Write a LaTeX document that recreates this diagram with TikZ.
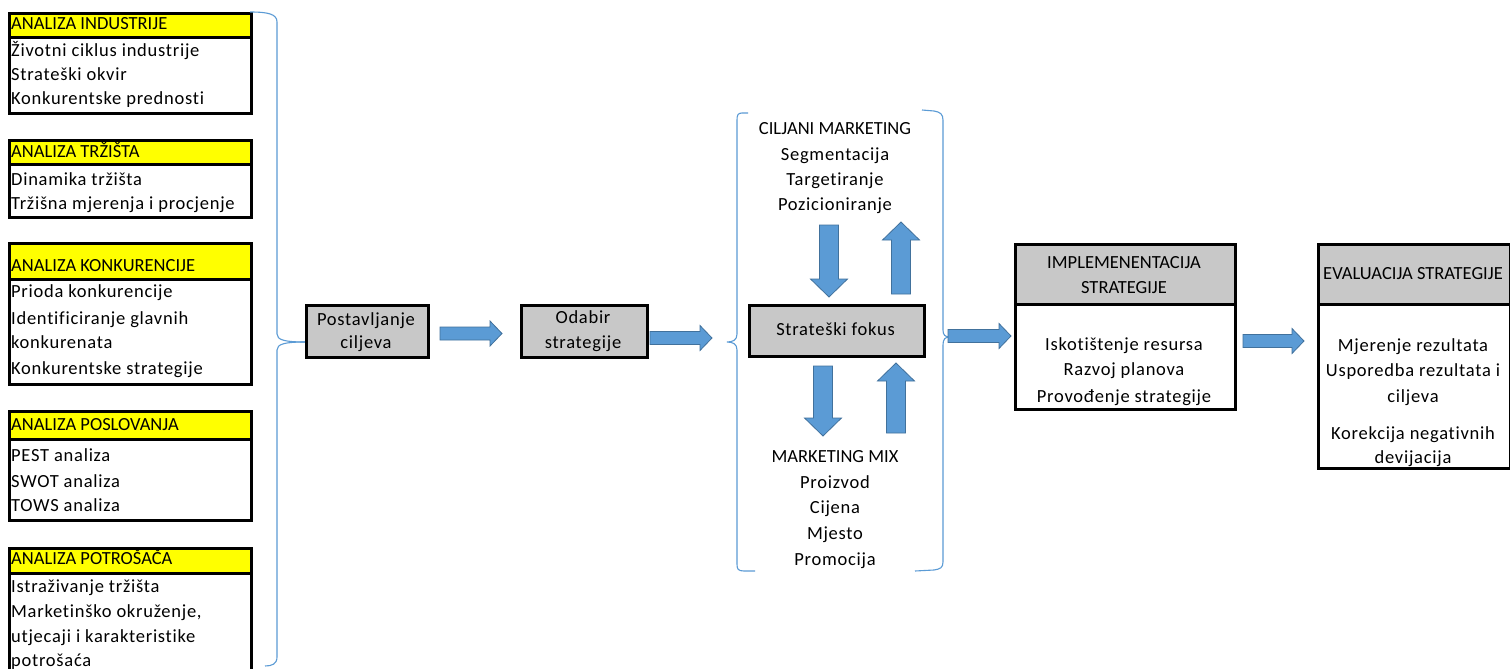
\documentclass[tikz,border=0pt]{standalone}
\usepackage{fontspec}
\setmainfont[Ligatures=NoCommon]{Carlito}
\newfontfamily\spaced[LetterSpace=4,Ligatures=NoCommon]{Carlito}
\definecolor{hdryellow}{RGB}{255,255,0}
\definecolor{boxgray}{RGB}{200,200,200}
\definecolor{arrowfill}{RGB}{91,155,213}
\definecolor{arrowline}{RGB}{65,113,156}
\definecolor{bracecol}{RGB}{91,155,213}
\tikzset{
  frame/.style={draw=black, line width=2.6pt, inner sep=0pt, anchor=north west},
  yhdr/.style={frame, fill=hdryellow},
  ghdr/.style={frame, fill=boxgray},
  wbody/.style={frame, fill=white},
  txt/.style={font=\spaced\fontsize{18.5}{20}\selectfont, inner sep=0pt, anchor=base west},
  htxt/.style={font=\fontsize{18.5}{20}\selectfont, inner sep=0pt, anchor=base west},
  ctxt/.style={font=\spaced\fontsize{18.5}{20}\selectfont, inner sep=0pt, anchor=base},
  chtxt/.style={font=\fontsize{18.5}{20}\selectfont, inner sep=0pt, anchor=base},
  blk/.style={fill=arrowfill, draw=arrowline, line width=0.8pt},
  bracel/.style={draw=bracecol, line width=1.1pt},
}
\newcommand{\harr}[3]{% x1, x2, yc
  \draw[blk] (#1,#3-6.5) -- (#2-12,#3-6.5) -- (#2-12,#3-12.5) -- (#2,#3) -- (#2-12,#3+12.5) -- (#2-12,#3+6.5) -- (#1,#3+6.5) -- cycle;}
\newcommand{\varr}[4]{% xc, ystart, ytip, sign(+1 down,-1 up)
  \draw[blk] (#1-9.5,#2) -- (#1+9.5,#2) -- (#1+9.5,#3-#4*18) -- (#1+18.5,#3-#4*18) -- (#1,#3) -- (#1-18.5,#3-#4*18) -- (#1-9.5,#3-#4*18) -- cycle;}
\begin{document}
\begin{tikzpicture}[x=1pt,y=-1pt]
\useasboundingbox (0,0) rectangle (1510,669);
\fill[white] (0,0) rectangle (1510,669);

% ---------- left analysis boxes ----------
% box 1
\node[wbody, minimum width=242, minimum height=100] (b1) at (8,12) {};
\node[yhdr, minimum width=242, minimum height=24] (h1) at (8,12) {};
\node[htxt] (h1t) at (11,30) {ANALIZA INDUSTRIJE};
\node[txt] (b1a) at (11,57) {Životni ciklus industrije};
\node[txt] (b1b) at (11,81) {Strateški okvir};
\node[txt] (b1c) at (11,104) {Konkurentske prednosti};
% box 2
\node[wbody, minimum width=242, minimum height=77] (b2) at (8,139) {};
\node[yhdr, minimum width=242, minimum height=24] (h2) at (8,139) {};
\node[htxt] (h2t) at (11,157) {ANALIZA TRŽIŠTA};
\node[txt] (b2a) at (11,185) {Dinamika tržišta};
\node[txt] (b2b) at (11,209) {Tržišna mjerenja i procjenje};
% box 3
\node[wbody, minimum width=242, minimum height=141] (b3) at (8,242) {};
\node[yhdr, minimum width=242, minimum height=36] (h3) at (8,242) {};
\node[htxt] (h3t) at (11,271) {ANALIZA KONKURENCIJE};
\node[txt] (b3a) at (11,297) {Prioda konkurencije};
\node[txt] (b3b) at (11,324) {Identificiranje glavnih};
\node[txt] (b3c) at (11,348) {konkurenata};
\node[txt] (b3d) at (11,374) {Konkurentske strategije};
% box 4
\node[wbody, minimum width=242, minimum height=109] (b4) at (8,410) {};
\node[yhdr, minimum width=242, minimum height=28] (h4) at (8,410) {};
\node[htxt] (h4t) at (11,430) {ANALIZA POSLOVANJA};
\node[txt] (b4a) at (11,461) {PEST analiza};
\node[txt] (b4b) at (11,487) {SWOT analiza};
\node[txt] (b4c) at (11,511) {TOWS analiza};
% box 5 (runs off the bottom)
\node[wbody, minimum width=242, minimum height=130] (b5) at (8,547) {};
\node[yhdr, minimum width=242, minimum height=25] (h5) at (8,547) {};
\node[htxt] (h5t) at (11,564) {ANALIZA POTROŠAČA};
\node[txt] (b5a) at (11,592) {Istraživanje tržišta};
\node[txt] (b5b) at (11,617) {Marketinško okruženje,};
\node[txt] (b5c) at (11,642) {utjecaji i karakteristike};
\node[txt] (b5d) at (11,666) {potrošaća};

% ---------- big left brace ----------
\draw[bracel] (250,12) .. controls (268,12) and (277,14) .. (277,22)
  -- (277,334) .. controls (277,340) and (285,342) .. (305,342);
\draw[bracel] (305,342) .. controls (285,342) and (277,344) .. (277,350)
  -- (277,657) .. controls (277,664) and (272,666) .. (265,666);

% ---------- Postavljanje / Odabir ----------
\node[ghdr, minimum width=122, minimum height=52] (pc) at (305,304) {};
\node[ctxt] (pc1) at (366,325) {Postavljanje};
\node[ctxt] (pc2) at (366,348) {ciljeva};
\harr{440}{502}{333.5}
\node[ghdr, minimum width=126, minimum height=52] (os) at (520,304) {};
\node[ctxt] (os1) at (583,323) {Odabir};
\node[ctxt] (os2) at (583,348) {strategije};
\harr{650}{712}{338}

% ---------- middle brackets ----------
\draw[bracel] (748,113) -- (742,113) .. controls (738,113) and (737,115) .. (737,120)
  -- (737,334) .. controls (737,340) and (733,342) .. (727,342)
  .. controls (733,342) and (737,344) .. (737,350)
  -- (737,564) .. controls (737,569) and (738,571) .. (744,571) -- (755,571);
\draw[bracel] (922,110) -- (934,111) .. controls (940,112) and (943,114) .. (943,120)
  -- (943,330) .. controls (943,335) and (945,337) .. (950,337)
  .. controls (945,337) and (943,339) .. (943,345)
  -- (943,562) .. controls (943,568) and (940,569) .. (934,570) -- (915,571);

\node[chtxt] (cm) at (835,134) {CILJANI MARKETING};
\node[ctxt] (cm1) at (835,160) {Segmentacija};
\node[ctxt] (cm2) at (835,185) {Targetiranje};
\node[ctxt] (cm3) at (835,210) {Pozicioniranje};

\varr{829}{225}{297}{1}
\varr{901}{294}{222}{-1}

\node[ghdr, minimum width=175, minimum height=51] (sf) at (748,304) {};
\node[ctxt] (sft) at (835.5,335) {Strateški fokus};

\varr{823}{366}{436}{1}
\varr{896}{433}{363}{-1}

\node[chtxt] (mm) at (835,462) {MARKETING MIX};
\node[ctxt] (mm1) at (835,488) {Proizvod};
\node[ctxt] (mm2) at (835,513) {Cijena};
\node[ctxt] (mm3) at (835,539) {Mjesto};
\node[ctxt] (mm4) at (835,565) {Promocija};

\harr{948}{1011}{336}

% ---------- Implementacija ----------
\node[wbody, minimum width=220, minimum height=165] (im) at (1014,243) {};
\node[ghdr, minimum width=220, minimum height=60] (imh) at (1014,243) {};
\node[chtxt] (imh1) at (1124,268) {IMPLEMENENTACIJA};
\node[chtxt] (imh2) at (1124,293) {STRATEGIJE};
\node[ctxt] (im1) at (1124,350) {Iskotištenje resursa};
\node[ctxt] (im2) at (1124,375) {Razvoj planova};
\node[ctxt] (im3) at (1124,402) {Provođenje strategije};

\harr{1243}{1304}{341}

% ---------- Evaluacija ----------
\node[wbody, minimum width=192, minimum height=224] (ev) at (1317,243) {};
\node[ghdr, minimum width=192, minimum height=60] (evh) at (1317,243) {};
\node[chtxt] (evh1) at (1413,279) {EVALUACIJA STRATEGIJE};
\node[ctxt] (ev1) at (1413,351) {Mjerenje rezultata};
\node[ctxt] (ev2) at (1413,376) {Usporedba rezultata i};
\node[ctxt] (ev3) at (1413,402) {ciljeva};
\node[ctxt] (ev4) at (1413,439) {Korekcija negativnih};
\node[ctxt] (ev5) at (1413,463) {devijacija};
\end{tikzpicture}
\end{document}
